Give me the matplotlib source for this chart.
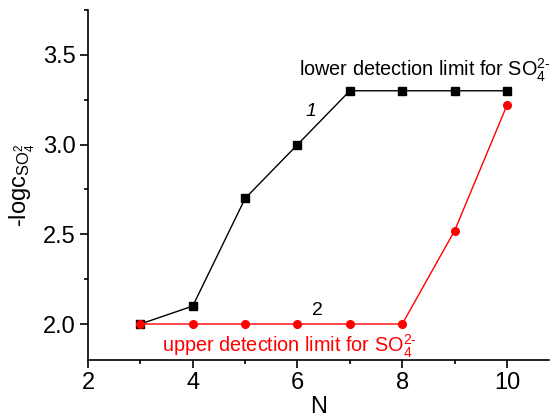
import matplotlib
matplotlib.use("Agg")
import matplotlib.pyplot as plt
from matplotlib.ticker import MultipleLocator, FormatStrFormatter

plt.rcParams["font.family"] = ["Liberation Sans", "DejaVu Sans"]
plt.rcParams["mathtext.fontset"] = "custom"
plt.rcParams["mathtext.rm"] = "Liberation Sans"
plt.rcParams["mathtext.it"] = "Liberation Sans:italic"

# data
n_values = [3, 4, 5, 6, 7, 8, 9, 10]
lower_limit = [2.0, 2.1, 2.7, 3.0, 3.3, 3.3, 3.3, 3.3]   # curve 1
upper_limit = [2.0, 2.0, 2.0, 2.0, 2.0, 2.0, 2.52, 3.22]  # curve 2

ion = r"SO$_4^{2\text{-}}$"

fig = plt.figure(figsize=(5.5, 4.18), dpi=100)
ax = fig.add_axes([0.16, 0.139, 0.838, 0.837])

ax.plot(n_values, lower_limit, color="black", lw=1, marker="s", ms=5.5)
ax.plot(n_values, upper_limit, color="red", lw=1, marker="o", ms=5.5)

ax.text(6.15, 3.16, "1", fontsize=14, style="italic")
ax.text(6.28, 2.05, "2", fontsize=14)
ax.text(6.02, 3.38, "lower detection limit for " + ion, fontsize=14.3)
ax.text(3.42, 1.84, "upper detection limit for " + ion, fontsize=14.3, color="red")

ax.set_xlim(2, 10.8)
ax.set_ylim(1.8, 3.75)
ax.xaxis.set_major_locator(MultipleLocator(2))
ax.xaxis.set_minor_locator(MultipleLocator(1))
ax.yaxis.set_major_locator(MultipleLocator(0.5))
ax.yaxis.set_minor_locator(MultipleLocator(0.25))
ax.yaxis.set_major_formatter(FormatStrFormatter("%.1f"))

for side in ("top", "right"):
    ax.spines[side].set_visible(False)
for side in ("left", "bottom"):
    ax.spines[side].set_linewidth(1.2)
ax.tick_params(which="both", direction="out", labelsize=17, width=1.2)
ax.tick_params(which="major", length=6, pad=3)
ax.tick_params(which="minor", length=3)

ax.set_xlabel("N", fontsize=17, labelpad=1)
ax.set_ylabel(r"-logc$_{\mathrm{SO}_4^{2}}$", fontsize=17, labelpad=4)

fig.savefig("out.png", dpi=100)
